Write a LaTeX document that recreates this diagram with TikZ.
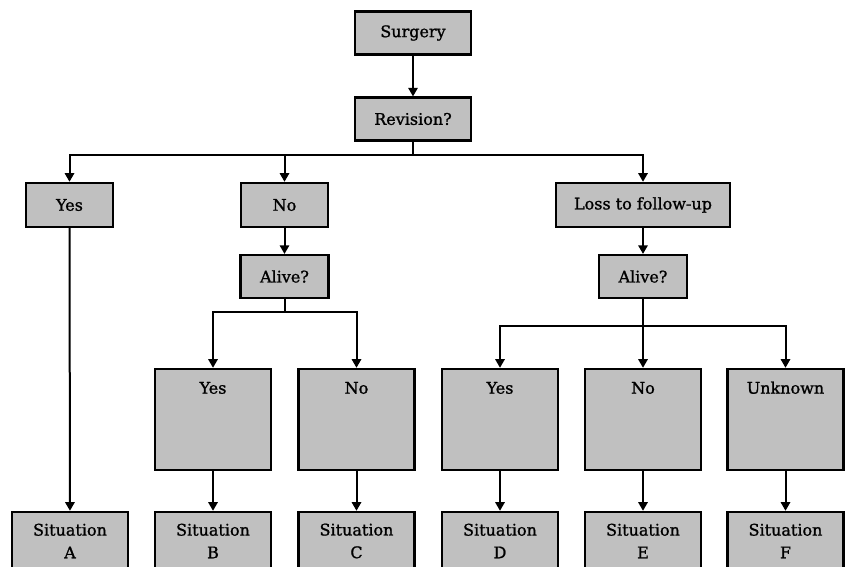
\documentclass[tikz,border=0pt]{standalone}
\usepackage{fontspec}
\setmainfont{DejaVu Serif}
\newfontfamily\boxfont[FakeBold=1.2]{DejaVu Serif}
\usetikzlibrary{arrows.meta,positioning}
\definecolor{boxgray}{RGB}{192,192,192}

\begin{document}
\begin{tikzpicture}[x=0.75pt, y=0.75pt,
            box/.style={rectangle, draw, fill=boxgray, line width=1.8pt, inner sep=0pt, align=center, font=\boxfont\fontsize{12}{17}\selectfont, minimum height=32pt},
            tall/.style={box, minimum height=75.75pt, inner ysep=9.5pt, text height=9pt, text depth=47.75pt},
            arrow/.style={-{Triangle[length=6.5pt, width=7pt]}, line width=1.5pt}
        ]
            \useasboundingbox (0,0) rectangle (846,567);

            % Top of the tree
            \node[box, minimum width=87pt] (surgery) at (413,534) {Surgery};
            \node[box, minimum width=87pt] (revision) at (413,448) {Revision?};

            % First split
            \node[box, minimum width=65.25pt, minimum height=33pt] (yes) at (69.5,362) {Yes};
            \node[box, minimum width=65.25pt, minimum height=33pt] (no) at (284.5,362) {No};
            \node[box, minimum width=130.5pt, minimum height=33pt] (loss) at (643,362) {Loss to follow-up};

            \node[box, minimum width=66pt] (aliveL) at (284.5,290.5) {Alive?};
            \node[box, minimum width=66pt] (aliveR) at (643,290.5) {Alive?};

            % Outcome boxes
            \node[tall, minimum width=87pt] (yesB) at (213,147.5) {Yes};
            \node[tall, minimum width=87pt] (noC) at (356.5,147.5) {No};
            \node[tall, minimum width=87pt] (yesD) at (500,147.5) {Yes};
            \node[tall, minimum width=87pt] (noE) at (643,147.5) {No};
            \node[tall, minimum width=87pt] (unkF) at (785.5,147.5) {Unknown};

            % Situations
            \node[box, minimum width=87pt, minimum height=43.5pt] (sitA) at (70,26) {Situation\\A};
            \node[box, minimum width=87pt, minimum height=43.5pt] (sitB) at (213,26) {Situation\\B};
            \node[box, minimum width=87pt, minimum height=43.5pt] (sitC) at (356.5,26) {Situation\\C};
            \node[box, minimum width=87pt, minimum height=43.5pt] (sitD) at (500,26) {Situation\\D};
            \node[box, minimum width=87pt, minimum height=43.5pt] (sitE) at (643,26) {Situation\\E};
            \node[box, minimum width=87pt, minimum height=43.5pt] (sitF) at (785.5,26) {Situation\\F};

            % Bus lines
            \coordinate (busTop) at (413,412);
            \coordinate (busL) at (284.5,255);
            \coordinate (busR) at (643,241);

            \draw[arrow] (surgery) -- (revision);
            \draw[arrow] (revision.south) -- (busTop) -| (yes.north);
            \draw[arrow] (busTop) -| (no.north);
            \draw[arrow] (busTop) -| (loss.north);

            \draw[arrow] (no) -- (aliveL);
            \draw[arrow] (loss) -- (aliveR);

            \draw[arrow] (aliveL.south) -- (busL) -| (yesB.north);
            \draw[arrow] (busL) -| (noC.north);
            \draw[arrow] (aliveR.south) -- (busR) -| (yesD.north);
            \draw[arrow] (busR) -- (noE.north);
            \draw[arrow] (busR) -| (unkF.north);

            \draw[arrow] (yes) -- (sitA);
            \draw[arrow] (yesB) -- (sitB);
            \draw[arrow] (noC) -- (sitC);
            \draw[arrow] (yesD) -- (sitD);
            \draw[arrow] (noE) -- (sitE);
            \draw[arrow] (unkF) -- (sitF);
        \end{tikzpicture}
\end{document}
